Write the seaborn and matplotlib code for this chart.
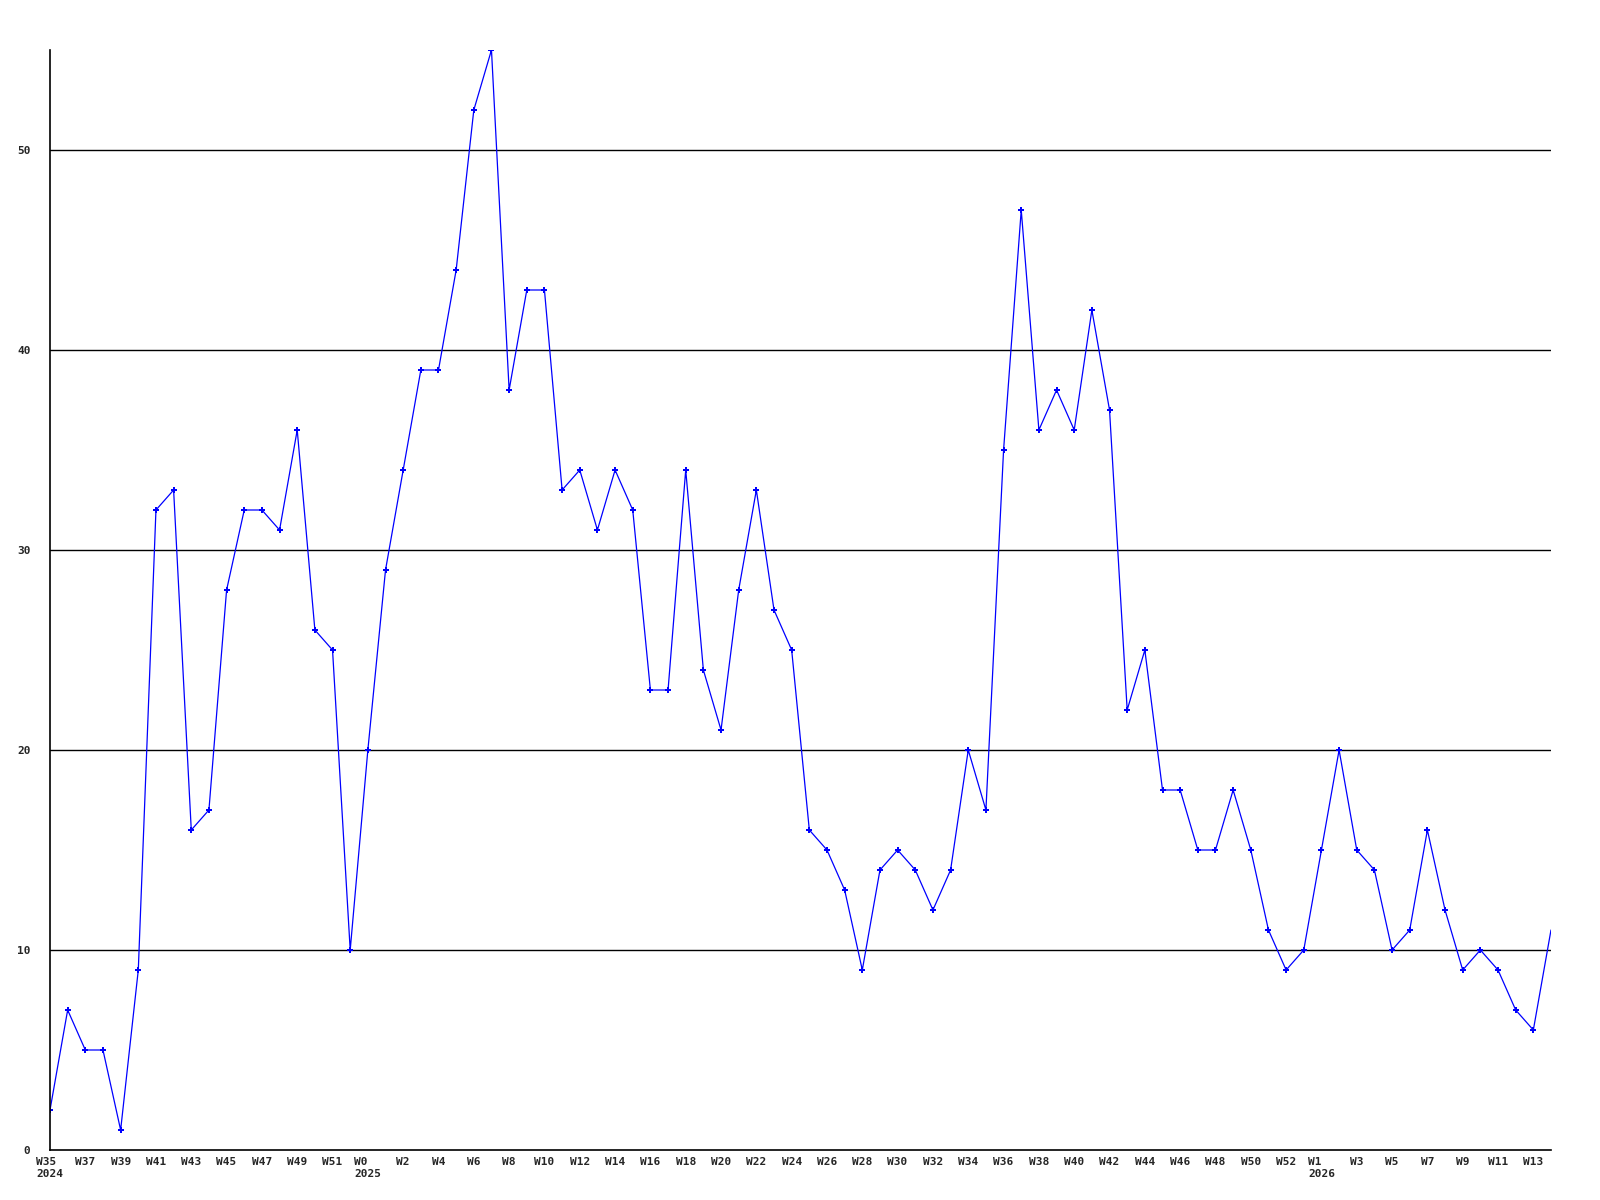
import pandas as pd
import numpy as np
import matplotlib
matplotlib.use('Agg')
import matplotlib.pyplot as plt
import seaborn as sns

# semanas por año (orden del eje x)
semanas_2024 = list(range(35, 53))
semanas_2025 = list(range(0, 53))
semanas_2026 = list(range(0, 15))

# valores semanales
valores = [2, 7, 5, 5, 1, 9, 32, 33, 16, 17, 28, 32, 32, 31, 36, 26, 25, 10,
           20, 29, 34, 39, 39, 44, 52, 55, 38, 43, 43, 33, 34, 31, 34, 32, 23, 23,
           34, 24, 21, 28, 33, 27, 25, 16, 15, 13, 9, 14, 15, 14, 12, 14, 20, 17,
           35, 47, 36, 38, 36, 42, 37, 22, 25, 18, 18, 15, 15, 18, 15, 11, 9, 10,
           15, 20, 15, 14, 10, 11, 16, 12, 9, 10, 9, 7, 6, 11]

# construir etiquetas
etiquetas = []
anios = []
for anio, semanas in [(2024, semanas_2024), (2025, semanas_2025), (2026, semanas_2026)]:
    for s in semanas:
        etiquetas.append(f"W{s}")
        anios.append(anio)

df = pd.DataFrame({'idx': np.arange(len(valores)), 'valor': valores,
                   'semana': etiquetas, 'anio': anios})

sns.set_style('white')
plt.rcParams['font.family'] = ['DejaVu Sans Mono']
plt.rcParams['font.weight'] = 'bold'

fig = plt.figure(figsize=(16, 12), dpi=100)
ax = fig.add_axes([50 / 1600, 50 / 1200, 1501 / 1600, 1100 / 1200])

# el ultimo punto queda cortado en el borde, sin marcador
sns.lineplot(data=df, x='idx', y='valor', ax=ax, color='#0000ff', linewidth=0.9,
             marker='P', markersize=4.5, markeredgewidth=0, markerfacecolor='#0000ff',
             markevery=list(range(len(valores) - 1)))

# lineas horizontales
for v in [10, 20, 30, 40, 50]:
    ax.axhline(v, color='black', linewidth=1.0, zorder=0)

ax.set_xlim(0, len(valores) - 1)
ax.set_ylim(0, 55)

# ticks del eje x cada dos semanas, con año en la primera de cada año
ticks = list(range(0, len(valores), 2))
tick_labels = []
visto = set()
for t in ticks:
    lab = df['semana'][t]
    if df['anio'][t] not in visto:
        visto.add(df['anio'][t])
        lab = lab + "\n" + str(df['anio'][t])
    tick_labels.append(lab)
ax.set_xticks(ticks)
ax.set_xticklabels(tick_labels, fontsize=8, fontweight='bold', multialignment='left')
ax.set_yticks([0, 10, 20, 30, 40, 50])
ax.set_yticklabels(['0', '10', '20', '30', '40', '50'], fontsize=8, fontweight='bold')
ax.tick_params(axis='both', length=0)
ax.tick_params(axis='x', pad=5)
ax.tick_params(axis='y', pad=14)

ax.set_xlabel('')
ax.set_ylabel('')
for lado in ['top', 'right']:
    ax.spines[lado].set_visible(False)
for lado in ['left', 'bottom']:
    ax.spines[lado].set_color('black')
    ax.spines[lado].set_linewidth(1.2)

fig.savefig('out.png', dpi=100)
